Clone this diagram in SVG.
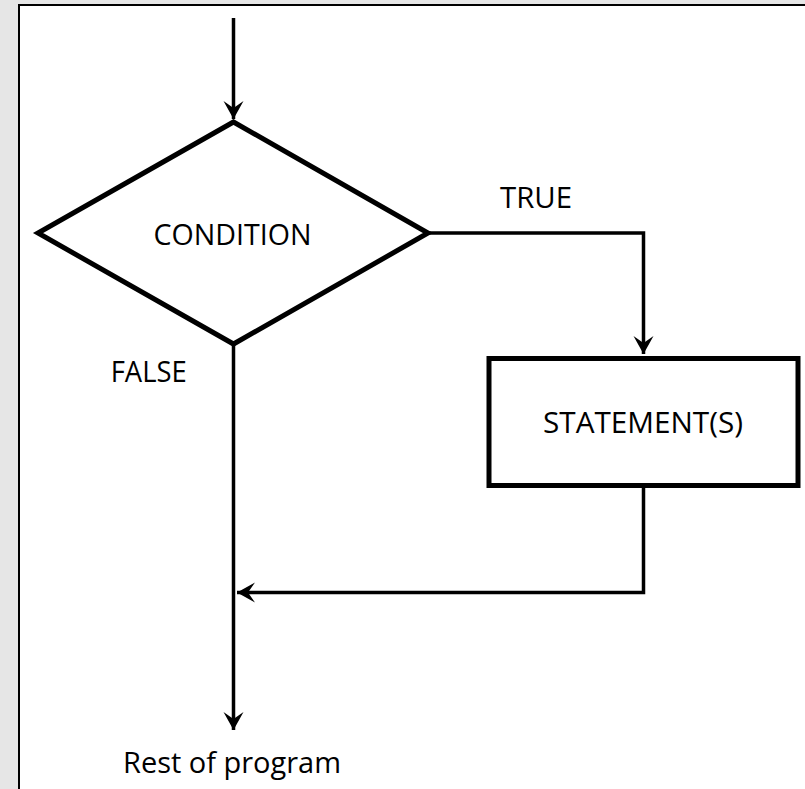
<svg xmlns="http://www.w3.org/2000/svg" width="805" height="789" viewBox="0 0 805 789">
<defs>
<style>
.shape{fill:#fff;stroke:#000;stroke-width:5;stroke-linejoin:miter}
.conn{fill:none;stroke:#000;stroke-width:3.5}
.lbl{font-family:"Open Sans","Noto Sans","Liberation Sans",sans-serif;font-size:29.5px;fill:#000}
</style>
<marker id="arr" viewBox="-20 -11 22 22" markerWidth="22" markerHeight="22" refX="0" refY="0" orient="auto" markerUnits="userSpaceOnUse">
<path d="M0,0 L-18,-10 L-11,0 L-18,10 Z" fill="#000"/>
</marker>
</defs>
<rect x="0" y="0" width="805" height="789" fill="#e6e6e6"/>
<rect id="frame" x="19" y="5" width="800" height="800" fill="#fff" stroke="#000" stroke-width="2"/>
<g id="connectors">
<line class="conn" x1="233.5" y1="18" x2="233.5" y2="119" marker-end="url(#arr)"/>
<polyline class="conn" points="428,233 643.5,233 643.5,354" marker-end="url(#arr)"/>
<polyline class="conn" points="643.5,487 643.5,592.5 237,592.5" marker-end="url(#arr)"/>
<line class="conn" x1="233.5" y1="344" x2="233.5" y2="730" marker-end="url(#arr)"/>
</g>
<g id="condition">
<polygon class="shape" points="233.5,122 428,233 233.5,344 38,233"/>
<text class="lbl" x="153.5" y="245" textLength="158" lengthAdjust="spacingAndGlyphs">CONDITION</text>
</g>
<g id="statements">
<rect class="shape" x="489" y="358.5" width="309" height="127"/>
<text class="lbl" x="543" y="433" textLength="200" lengthAdjust="spacingAndGlyphs">STATEMENT(S)</text>
</g>
<g id="labels">
<text class="lbl" x="500" y="208" textLength="72" lengthAdjust="spacingAndGlyphs">TRUE</text>
<text class="lbl" x="110.7" y="381.7" textLength="76" lengthAdjust="spacingAndGlyphs">FALSE</text>
<text class="lbl" x="123" y="773" textLength="218" lengthAdjust="spacingAndGlyphs">Rest of program</text>
</g>
</svg>
